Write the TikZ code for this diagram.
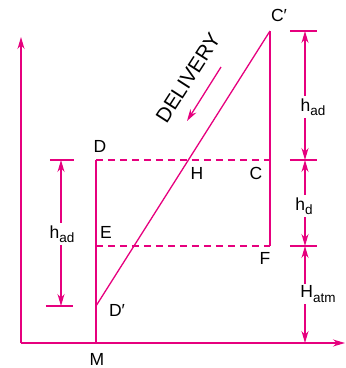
\documentclass[tikz,border=0pt]{standalone}
\usepackage{fontspec}
\setmainfont{Liberation Sans}
\usetikzlibrary{arrows.meta}
\definecolor{mag}{RGB}{230,0,126}
\newcommand{\sbs}[1]{\raisebox{-4.5pt}{\fontsize{13.5}{13.5}\selectfont #1}}
\tikzset{
  ln/.style={draw=mag, line width=1.3pt},
  dsh/.style={draw=mag, line width=1.1pt, dash pattern=on 7pt off 5pt},
  arr/.style={ln, -{Stealth[length=12pt,width=7pt]}},
  lbl/.style={font=\fontsize{17.5}{20}\selectfont, text=black, inner sep=1pt},
  dimlbl/.style={lbl, fill=white, inner sep=2pt}
}
\begin{document}
\begin{tikzpicture}[x=1pt,y=1pt]
\useasboundingbox (0,0) rectangle (346,368);
% key points
\coordinate (O) at (21,25);
\coordinate (Ytop) at (21,331);
\coordinate (Xend) at (345,25);
\coordinate (M) at (96,25);
\coordinate (D) at (96,208);
\coordinate (E) at (96,122);
\coordinate (Dp) at (96,62);
\coordinate (Cp) at (270,337);
\coordinate (C) at (270,208);
\coordinate (F) at (270,122);
% axes
\draw[arr] (O) -- (Ytop);
\draw[arr] (O) -- (Xend);
% diagram lines
\draw[ln] (M) -- (D);
\draw[ln] (Cp) -- (F);
\draw[ln] (Dp) -- (Cp);
\draw[dsh] (D) -- (C);
\draw[dsh] (E) -- (F);
% right dimension ticks
\coordinate (rt1a) at (290,337); \coordinate (rt1b) at (317,337);
\coordinate (rt2a) at (290,208); \coordinate (rt2b) at (317,208);
\coordinate (rt3a) at (290,122); \coordinate (rt3b) at (317,122);
\draw[ln] (rt1a) -- (rt1b);
\draw[ln] (rt2a) -- (rt2b);
\draw[ln] (rt3a) -- (rt3b);
\coordinate (r1) at (305,337);
\coordinate (r2) at (305,208);
\coordinate (r3) at (305,122);
\coordinate (r4) at (305,25);
\draw[arr] (305,272) -- (r1);
\draw[arr] (305,272) -- (r2);
\draw[arr] (305,165) -- (r2);
\draw[arr] (305,165) -- (r3);
\draw[arr] (305,73) -- (r3);
\draw[arr] (305,73) -- (r4);
\node[dimlbl] (rhad) at (313,261) {h\sbs{ad}};
\node[dimlbl] (rhd) at (304,162) {h\sbs{d}};
\node[dimlbl] (rhatm) at (318,74) {H\sbs{atm}};
% left dimension
\coordinate (lt1a) at (50,208); \coordinate (lt1b) at (74,208);
\coordinate (lt2a) at (46,62); \coordinate (lt2b) at (73,62);
\draw[ln] (lt1a) -- (lt1b);
\draw[ln] (lt2a) -- (lt2b);
\draw[arr] (61,135) -- (61,208);
\draw[arr] (61,135) -- (61,62);
\node[dimlbl] (lhad) at (62,134) {h\sbs{ad}};
% point labels
\node[lbl] (lD) at (100,222) {D};
\node[lbl] (lH) at (197,195) {H};
\node[lbl] (lC) at (256,195) {C};
\node[lbl] (lE) at (106,136) {E};
\node[lbl] (lF) at (265,110) {F};
\node[lbl] (lDp) at (117,58) {D′};
\node[lbl] (lM) at (97,9) {M};
\node[lbl] (lCp) at (279,353) {C′};
% delivery
\node[lbl, font=\fontsize{20.5}{22}\selectfont, rotate=57.2] (dl) at (188,290) {DELIVERY};
\coordinate (da) at (221,301);
\coordinate (db) at (187,247);
\draw[arr] (da) -- (db);
\end{tikzpicture}
\end{document}
